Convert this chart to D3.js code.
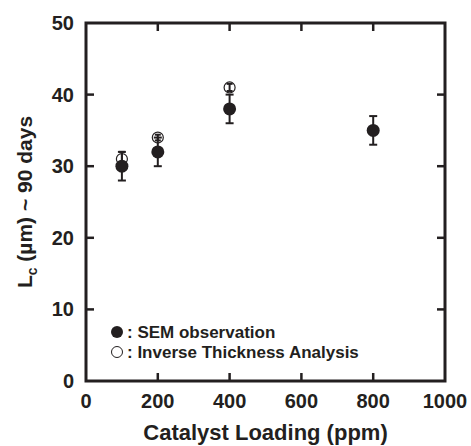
<!DOCTYPE html>
<html>
<head>
<meta charset="utf-8">
<script src="https://cdn.jsdelivr.net/npm/d3@7"></script>
<style>
  body { margin: 0; background: #fff; }
  text { font-family: "Liberation Sans", Arial, sans-serif; font-weight: bold; fill: #231f20; }
</style>
</head>
<body>
<svg id="chart" width="471" height="446"></svg>
<script>
// Lc vs catalyst loading, 90 days
const loading = [100, 200, 400, 800];
const semValues = [30, 32, 38, 35];
const semErrors = [2, 2, 2, 2];

const itaLoading = [100, 200, 400];
const itaValues = [31, 34, 41];
const itaErrors = [1, 0.4, 0.5];

const xTicks = [0, 200, 400, 600, 800, 1000];
const yTicks = [0, 10, 20, 30, 40, 50];

const svg = d3.select('#chart');
const margin = { left: 86, right: 26, top: 23, bottom: 65 };
const width = 471 - margin.left - margin.right;
const height = 446 - margin.top - margin.bottom;
const ink = '#231f20';

const x = d3.scaleLinear().domain([0, 1000]).range([0, width]);
const y = d3.scaleLinear().domain([0, 50]).range([height, 0]);

const g = svg.append('g').attr('transform', `translate(${margin.left},${margin.top})`);

// inward ticks on all four sides
const tickLen = 8;
const innerX = xTicks.slice(1, -1);
const innerY = yTicks.slice(1, -1);
g.selectAll('.tb').data(innerX).enter().append('line')
    .attr('x1', d => x(d)).attr('x2', d => x(d))
    .attr('y1', height).attr('y2', height - tickLen)
    .style('stroke', ink).style('stroke-width', 2.5);
g.selectAll('.tt').data(innerX).enter().append('line')
    .attr('x1', d => x(d)).attr('x2', d => x(d))
    .attr('y1', 0).attr('y2', tickLen)
    .style('stroke', ink).style('stroke-width', 2.5);
g.selectAll('.tl').data(innerY).enter().append('line')
    .attr('x1', 0).attr('x2', tickLen)
    .attr('y1', d => y(d)).attr('y2', d => y(d))
    .style('stroke', ink).style('stroke-width', 2.5);
g.selectAll('.tr').data(innerY).enter().append('line')
    .attr('x1', width).attr('x2', width - tickLen)
    .attr('y1', d => y(d)).attr('y2', d => y(d))
    .style('stroke', ink).style('stroke-width', 2.5);

g.append('rect')
    .attr('width', width).attr('height', height)
    .style('fill', 'none').style('stroke', ink).style('stroke-width', 3);

// tick labels
g.selectAll('.xl').data(xTicks).enter().append('text')
    .attr('x', d => x(d)).attr('y', height + 27)
    .attr('text-anchor', 'middle')
    .style('font-size', '20px')
    .text(d => d);
g.selectAll('.yl').data(yTicks).enter().append('text')
    .attr('x', -12).attr('y', d => y(d) + 7)
    .attr('text-anchor', 'end')
    .style('font-size', '20px')
    .text(d => d);

// axis titles
g.append('text')
    .attr('x', width / 2).attr('y', height + 59)
    .attr('text-anchor', 'middle')
    .style('font-size', '22px')
    .text('Catalyst Loading (ppm)');

const yt = g.append('text')
    .attr('transform', `translate(-54,${height / 2}) rotate(-90)`)
    .attr('text-anchor', 'middle')
    .style('font-size', '21px');
yt.append('tspan').text('L');
yt.append('tspan').attr('dy', 5).style('font-size', '14px').text('c');
yt.append('tspan').attr('dy', -5).text(' (µm) ~ 90 days');

function errorBars(xs, vs, es, cap) {
    const data = xs.map((d, i) => ({ x: d, v: vs[i], e: es[i] }));
    const eg = g.append('g');
    eg.selectAll('line.v').data(data).enter().append('line')
        .attr('x1', d => x(d.x)).attr('x2', d => x(d.x))
        .attr('y1', d => y(d.v - d.e)).attr('y2', d => y(d.v + d.e))
        .style('stroke', ink).style('stroke-width', 2);
    [-1, 1].forEach(s => {
        eg.append('g').selectAll('line').data(data).enter().append('line')
            .attr('x1', d => x(d.x) - cap).attr('x2', d => x(d.x) + cap)
            .attr('y1', d => y(d.v + s * d.e))
            .attr('y2', d => y(d.v + s * d.e))
            .style('stroke', ink).style('stroke-width', 2);
    });
}

// inverse thickness analysis (open)
g.selectAll('circle.ita').data(itaLoading).enter().append('circle')
    .attr('cx', d => x(d)).attr('cy', (d, i) => y(itaValues[i]))
    .attr('r', 5.5)
    .style('fill', '#fff').style('stroke', ink).style('stroke-width', 1.2);
errorBars(itaLoading, itaValues, itaErrors, 3);

// SEM observation (filled)
errorBars(loading, semValues, semErrors, 4);
g.selectAll('circle.sem').data(loading).enter().append('circle')
    .attr('cx', d => x(d)).attr('cy', (d, i) => y(semValues[i]))
    .attr('r', 6.5)
    .style('fill', ink);

// legend
const legend = g.append('g').attr('transform', 'translate(31,309)');
legend.append('circle').attr('cx', 0).attr('cy', 0).attr('r', 6).style('fill', ink);
legend.append('text').attr('x', 10).attr('y', 6).style('font-size', '17px').text(': SEM observation');
legend.append('circle').attr('cx', 0).attr('cy', 20).attr('r', 5.5)
    .style('fill', '#fff').style('stroke', ink).style('stroke-width', 1);
legend.append('text').attr('x', 10).attr('y', 26).style('font-size', '17px').text(': Inverse Thickness Analysis');
</script>
</body>
</html>
